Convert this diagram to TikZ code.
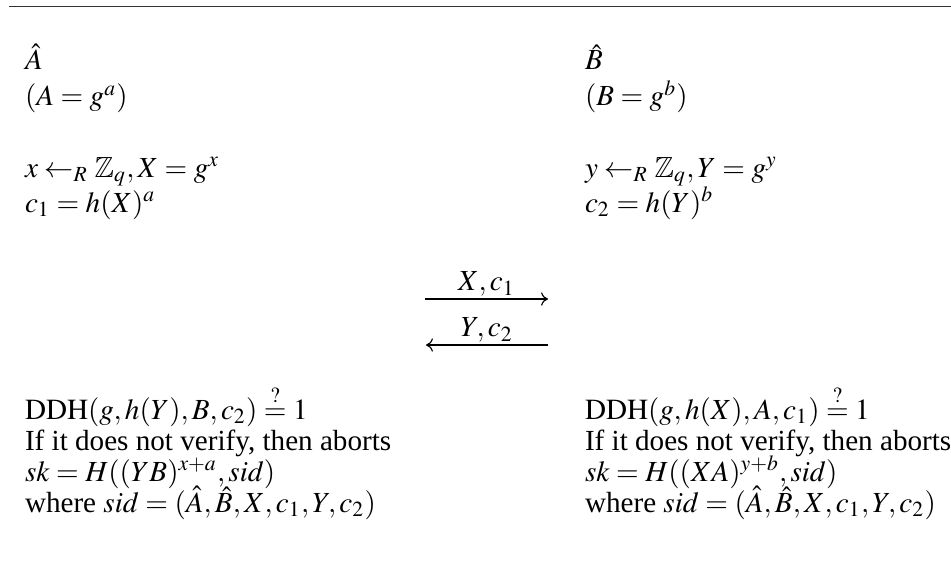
\documentclass[tikz,border=0pt]{standalone}
\usepackage{mathptmx}
\usepackage{amssymb}
\usepackage[no-math]{fontspec}
\setmainfont{Liberation Serif}
\usetikzlibrary{arrows.meta}
\begin{document}
\begin{tikzpicture}[x=0.3484pt,y=-0.3484pt,
  txt/.style={anchor=base west,inner sep=0pt,outer sep=0pt,font=\fontsize{10.15pt}{12pt}\selectfont},
  lbl/.style={anchor=base,inner sep=0pt,outer sep=0pt,yshift=2.8pt,font=\fontsize{10.15pt}{12pt}\selectfont},
  rulel/.style={line width=0.55pt,draw=black!80},
  arr/.style={line width=0.4pt,-{Computer Modern Rightarrow[length=2.4pt,width=4.6pt]}}]
\useasboundingbox (0,0) rectangle (951,576);
% top rule
\coordinate (r1) at (9,6.5);
\coordinate (r2) at (951,6.5);
\draw[rulel] (r1) -- (r2);
% left party
\node[txt] (a1) at (25,70) {$\hat{A}$};
\node[txt] (a2) at (25,106) {$(A = g^{a})$};
\node[txt] (a3) at (25,177) {$x \leftarrow_R \mathbb{Z}_q, X = g^{x}$};
\node[txt] (a4) at (25,212) {$c_1 = h(X)^{a}$};
% right party
\node[txt] (b1) at (585,70) {$\hat{B}$};
\node[txt] (b2) at (585,106) {$(B = g^{b})$};
\node[txt] (b3) at (585,177) {$y \leftarrow_R \mathbb{Z}_q, Y = g^{y}$};
\node[txt] (b4) at (585,212) {$c_2 = h(Y)^{b}$};
% messages
\coordinate (m1s) at (425,299);
\coordinate (m1e) at (548,299);
\coordinate (m2s) at (548,345);
\coordinate (m2e) at (426,345);
\draw[arr] (m1s) -- node[lbl] (l1) {$X, c_1$} (m1e);
\draw[arr] (m2s) -- node[lbl] (l2) {$Y, c_2$} (m2e);
% left final
\node[txt] (a5) at (25,419) {$\mathrm{DDH}(g, h(Y), B, c_2) \stackrel{?}{=} 1$};
\node[txt] (a6) at (25,450) {If it does not verify, then aborts};
\node[txt] (a7) at (25,481) {$sk = H((YB)^{x+a}, sid)$};
\node[txt] (a8) at (25,512) {where $sid = (\hat{A}, \hat{B}, X, c_1, Y, c_2)$};
% right final
\node[txt] (b5) at (585,419) {$\mathrm{DDH}(g, h(X), A, c_1) \stackrel{?}{=} 1$};
\node[txt] (b6) at (585,450) {If it does not verify, then aborts};
\node[txt] (b7) at (585,481) {$sk = H((XA)^{y+b}, sid)$};
\node[txt] (b8) at (585,512) {where $sid = (\hat{A}, \hat{B}, X, c_1, Y, c_2)$};
\end{tikzpicture}
\end{document}
